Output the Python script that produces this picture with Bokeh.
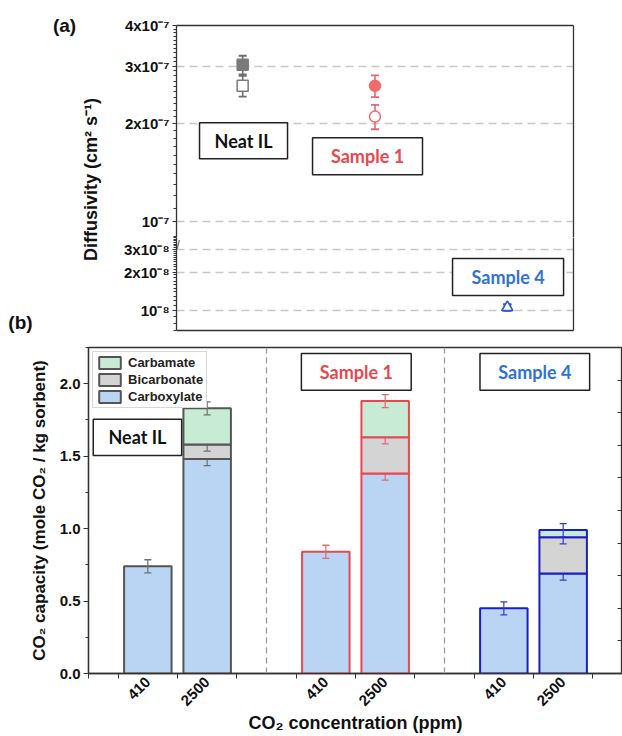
import math
from bokeh.plotting import figure
from bokeh.models import (Range1d, FixedTicker, LinearAxis, BoxAnnotation, Label,
                          ColumnDataSource, Legend, LegendItem, Span,
                          CustomJSTickFormatter, NumeralTickFormatter)
from bokeh.layouts import column, row
from bokeh.embed import file_html
from bokeh.resources import INLINE

# ---------------- data ----------------
samples = ["Neat IL", "Sample 1", "Sample 4"]
# panel (a): diffusivity (cm^2/s)
diff_filled = [3.03e-7, 2.61e-7, 1.06e-8]
diff_filled_err = [0.20e-7, 0.20e-7, 0.06e-8]
diff_open = [2.61e-7, 2.10e-7, 1.06e-8]
diff_open_err = [0.19e-7, 0.18e-7, 0.06e-8]

# panel (b): CO2 capacity (mol CO2 / kg sorbent), order: sample x concentration
conc_labels = ["410", "2500"]
carboxylate = [0.74, 1.48, 0.84, 1.38, 0.45, 0.69]
bicarbonate = [0.00, 0.10, 0.00, 0.25, 0.00, 0.25]
carbamate = [0.00, 0.25, 0.00, 0.25, 0.00, 0.05]
carboxylate_err = [0.045, 0.045, 0.045, 0.045, 0.045, 0.045]
bicarbonate_err = [0.0, 0.045, 0.0, 0.045, 0.0, 0.045]
carbamate_err = [0.0, 0.045, 0.0, 0.045, 0.0, 0.045]
species = ["Carboxylate", "Bicarbonate", "Carbamate"]

# ---------------- styles ----------------
AX_FONT = "Liberation Sans"
BOX_FONT = "Lato"
AX_COLOR = "#333333"
text_colors = ["#111111", "#E8474F", "#2F72D2"]
marker_colors = ["#7a7a7a", "#F06A6E", "#2F5FD0"]
bar_line_colors = ["#555555", "#E8474F", "#1C1CCB"]
err_colors = ["#6e6e6e", "#E06A70", "#3A3AC8"]
markers = ["square", "circle", "triangle"]
species_fill = {"Carboxylate": "#BAD4F3", "Bicarbonate": "#D4D4D4", "Carbamate": "#C8EBD6"}

sup_formatter = CustomJSTickFormatter(code="""
const sup = {"-": "⁻", "0": "⁰", "1": "¹", "2": "²", "3": "³", "4": "⁴",
             "5": "⁵", "6": "⁶", "7": "⁷", "8": "⁸", "9": "⁹"};
const e = Math.floor(Math.log10(tick) + 1e-9);
const m = Math.round(tick / Math.pow(10, e));
let s = "";
for (const c of String(e)) { s += sup[c]; }
return (m == 1 ? "" : m + "x") + "10" + s;
""")


def blank_axis(**kw):
    opts = dict(ticker=FixedTicker(ticks=[]), major_tick_out=0, major_tick_in=0,
                minor_tick_out=0, minor_tick_in=0, major_label_standoff=0,
                axis_line_color=AX_COLOR, axis_line_width=1.3)
    opts.update(kw)
    return LinearAxis(**opts)


# ---------------- panel (a) ----------------
xs_a = [1, 2, 3]
src_a = ColumnDataSource(dict(
    x=xs_a,
    filled=diff_filled,
    fl=[v - e for v, e in zip(diff_filled, diff_filled_err)],
    fh=[v + e for v, e in zip(diff_filled, diff_filled_err)],
    open=diff_open,
    ol=[v - e for v, e in zip(diff_open, diff_open_err)],
    oh=[v + e for v, e in zip(diff_open, diff_open_err)],
    marker=markers, mcol=marker_colors, ecol=err_colors,
))


def diff_fig(height, y_lo, y_hi, majors, minors, top, bottom):
    p = figure(width=506, height=height, x_range=Range1d(0.5, 3.5),
               y_range=Range1d(y_lo, y_hi), y_axis_type="log", x_axis_location=None,
               output_backend="svg", toolbar_location=None,
               min_border_left=60, min_border_right=49,
               min_border_top=top, min_border_bottom=bottom)
    p.outline_line_color = None
    p.xgrid.visible = False
    p.ygrid.grid_line_color = "#c8c8c8"
    p.ygrid.grid_line_dash = "8 5"
    p.ygrid.grid_line_width = 1.5
    ya = p.yaxis[0]
    ya.ticker = FixedTicker(ticks=majors, minor_ticks=minors)
    ya.formatter = sup_formatter
    ya.major_tick_out = 4
    ya.major_tick_in = 0
    ya.minor_tick_out = 3
    ya.minor_tick_in = 0
    ya.major_label_standoff = 3
    ya.axis_line_color = AX_COLOR
    ya.axis_line_width = 1.3
    ya.major_tick_line_color = AX_COLOR
    ya.minor_tick_line_color = AX_COLOR
    ya.major_label_text_font = AX_FONT
    ya.major_label_text_font_style = "bold"
    ya.major_label_text_font_size = "15px"
    ya.major_label_text_color = "#111111"
    p.add_layout(blank_axis(), "right")
    # error bars
    p.segment(x0="x", y0="fl", x1="x", y1="fh", line_color="ecol", line_width=1.6, source=src_a)
    p.segment(x0="x", y0="ol", x1="x", y1="oh", line_color="ecol", line_width=1.6, source=src_a)
    for col in ["fl", "fh", "ol", "oh"]:
        p.scatter(x="x", y=col, marker="dash", size=8, line_color="ecol", line_width=1.8, source=src_a)
    p.scatter(x="x", y="filled", marker="marker", size=11, fill_color="mcol",
              line_color="mcol", line_width=1.5, source=src_a)
    p.scatter(x="x", y="open", marker="marker", size=11, fill_color="white",
              line_color="mcol", line_width=1.5, source=src_a)
    return p


up_minor = [k * 1e-8 for k in range(9, 40) if k % 10 != 0]
pa1 = diff_fig(237, 0.893e-7, 4e-7, [1e-7, 2e-7, 3e-7, 4e-7], up_minor, 25, 0)
pa1.add_layout(blank_axis(), "above")

lo_minor = [k * 1e-9 for k in range(7, 38) if k % 10 != 0]
pa2 = diff_fig(99, 7e-9, 3.72e-8, [1e-8, 2e-8, 3e-8], lo_minor, 0, 6)
pa2.add_layout(blank_axis(), "below")

# axis break mark
pa2.add_layout(Label(x=0.5, y=3.72e-8, text="//", text_font=AX_FONT, text_font_size="12px",
                     text_color="#444444", text_align="center", text_baseline="top"))


def add_box(p, left, right, bottom, top, text, color, ytext):
    p.add_layout(BoxAnnotation(left=left, right=right, bottom=bottom, top=top,
                               fill_color="white", fill_alpha=1.0,
                               line_color="#222222", line_width=1.5, line_alpha=1.0))
    p.add_layout(Label(x=(left + right) / 2, y=ytext, text=text, text_font=BOX_FONT,
                       text_font_style="bold", text_font_size="18px", text_color=color,
                       text_align="center", text_baseline="middle"))


add_box(pa1, 0.674, 1.339, 1.559e-7, 2.011e-7, samples[0], text_colors[0], math.sqrt(1.559e-7 * 2.011e-7))
add_box(pa1, 1.528, 2.359, 1.392e-7, 1.809e-7, samples[1], text_colors[1], math.sqrt(1.392e-7 * 1.809e-7))
add_box(pa2, 2.586, 3.425, 1.313e-8, 2.55e-8, samples[2], text_colors[2], math.sqrt(1.313e-8 * 2.55e-8))

# left label strip for panel (a)
lf = figure(width=116, height=336, x_range=Range1d(0, 116), y_range=Range1d(0, 336),
            x_axis_location=None, y_axis_location=None, output_backend="svg",
            toolbar_location=None, min_border=0)
lf.outline_line_color = None
lf.grid.visible = False
lf.add_layout(Label(x=64, y=311, text="(a)", text_font=AX_FONT, text_font_style="bold",
                    text_font_size="19px", text_color="#111111", text_align="center",
                    text_baseline="middle"))
lf.add_layout(Label(x=20, y=14, text="(b)", text_font=AX_FONT, text_font_style="bold",
                    text_font_size="19px", text_color="#111111", text_align="center",
                    text_baseline="middle"))
lf.add_layout(Label(x=90, y=157, text="Diffusivity (cm² s⁻¹)", angle=math.pi / 2,
                    text_font=AX_FONT, text_font_style="bold", text_font_size="18px",
                    text_color="#111111", text_align="center", text_baseline="middle"))

# ---------------- panel (b) ----------------
pb = figure(width=622, height=400, x_range=Range1d(0, 9), y_range=Range1d(0, 2.25),
            output_backend="svg", toolbar_location=None,
            min_border_left=88, min_border_right=0, min_border_top=11, min_border_bottom=0)
pb.grid.visible = False
pb.outline_line_color = AX_COLOR
pb.outline_line_width = 1.3
pb.outline_line_alpha = 1.0

ya = pb.yaxis[0]
ya.ticker = FixedTicker(ticks=[0, 0.5, 1.0, 1.5, 2.0], minor_ticks=[0.25, 0.75, 1.25, 1.75, 2.25])
ya.formatter = NumeralTickFormatter(format="0.0")
ya.axis_label = "CO₂ capacity (mole CO₂ / kg sorbent)"
ya.major_tick_out = 5
ya.major_tick_in = 0
ya.minor_tick_out = 3
ya.minor_tick_in = 0
ya.major_label_standoff = 3
ya.axis_label_standoff = 8

xa = pb.xaxis[0]
xa.ticker = FixedTicker(ticks=[1, 2, 4, 5, 7, 8],
                        minor_ticks=[0, 0.5, 1.5, 2.5, 3.5, 4.5, 5.5, 6.5, 7.5, 8.5])
xa.formatter = CustomJSTickFormatter(args=dict(labels=conc_labels),
                                     code="return labels[(Math.round(tick) - 1) % 3];")
xa.major_label_orientation = math.pi / 4
xa.axis_label = "CO₂ concentration (ppm)"
xa.major_tick_out = 0
xa.major_tick_in = 0
xa.minor_tick_out = 5
xa.minor_tick_in = 0
xa.major_label_standoff = 1
xa.axis_label_standoff = 0

for ax in [xa, ya]:
    ax.axis_line_color = AX_COLOR
    ax.axis_line_width = 1.3
    ax.major_tick_line_color = AX_COLOR
    ax.minor_tick_line_color = AX_COLOR
    ax.major_label_text_font = AX_FONT
    ax.major_label_text_font_style = "bold"
    ax.major_label_text_font_size = "15px"
    ax.major_label_text_color = "#111111"
    ax.axis_label_text_font = AX_FONT
    ax.axis_label_text_font_style = "bold"
    ax.axis_label_text_font_size = "17px"
    ax.axis_label_text_color = "#111111"
xa.axis_label_text_font_size = "18px"

pb.extra_y_ranges = {"r": Range1d(0, 10)}
rax = blank_axis(y_range_name="r",
                 ticker=FixedTicker(ticks=[], minor_ticks=[1, 2, 3, 4, 5, 6, 7, 8, 9]),
                 minor_tick_in=5, minor_tick_line_color=AX_COLOR)
pb.add_layout(rax, "right")

for s in [3, 6]:
    pb.add_layout(Span(location=s, dimension="height", line_color="#9a9a9a",
                       line_dash="6 4", line_width=1.3))

seg_values = {"Carboxylate": carboxylate, "Bicarbonate": bicarbonate, "Carbamate": carbamate}
seg_errs = {"Carboxylate": carboxylate_err, "Bicarbonate": bicarbonate_err, "Carbamate": carbamate_err}
legend_renderers = {}
for g in range(len(samples)):
    idxs = [2 * g, 2 * g + 1]
    xpos = {i: 3 * g + (i % 2) + 1 for i in idxs}
    base = {i: 0.0 for i in idxs}
    for sp in species:
        vals = seg_values[sp]
        errs = seg_errs[sp]
        keep = [i for i in idxs if vals[i] > 0]
        d = dict(x=[xpos[i] for i in keep],
                 bottom=[base[i] for i in keep],
                 top=[base[i] + vals[i] for i in keep])
        ekeep = [i for i in keep if errs[i] > 0]
        de = dict(x=[xpos[i] for i in ekeep],
                  lo=[base[i] + vals[i] - errs[i] for i in ekeep],
                  hi=[base[i] + vals[i] + errs[i] for i in ekeep])
        for i in keep:
            base[i] += vals[i]
        r = pb.vbar(x="x", bottom="bottom", top="top", width=0.8, source=ColumnDataSource(d),
                    fill_color=species_fill[sp], line_color=bar_line_colors[g], line_width=2)
        if g == 0:
            legend_renderers[sp] = r
        src_e = ColumnDataSource(de)
        pb.segment(x0="x", y0="lo", x1="x", y1="hi", source=src_e,
                   line_color=err_colors[g], line_width=1.2)
        pb.scatter(x="x", y="lo", marker="dash", size=7, source=src_e,
                   line_color=err_colors[g], line_width=1.3)
        pb.scatter(x="x", y="hi", marker="dash", size=7, source=src_e,
                   line_color=err_colors[g], line_width=1.3)

legend = Legend(items=[LegendItem(label=sp, renderers=[legend_renderers[sp]]) for sp in reversed(species)],
                location="top_left", label_text_font=AX_FONT, label_text_font_style="bold",
                label_text_font_size="13px", label_text_color="#222222",
                glyph_width=27, glyph_height=15, label_height=15, label_standoff=5,
                spacing=2, padding=3, margin=4, border_line_color="#b0b0b0",
                border_line_width=1.2, background_fill_alpha=1.0)
pb.add_layout(legend)

add_box(pb, 0.08, 1.57, 1.504, 1.755, samples[0], text_colors[0], (1.504 + 1.755) / 2)
add_box(pb, 3.588, 5.439, 1.955, 2.208, samples[1], text_colors[1], (1.955 + 2.208) / 2)
add_box(pb, 6.598, 8.446, 1.955, 2.208, samples[2], text_colors[2], (1.955 + 2.208) / 2)

layout = column(row(lf, column(pa1, pa2)), pb)
open("out.html", "w").write(file_html(layout, INLINE))
